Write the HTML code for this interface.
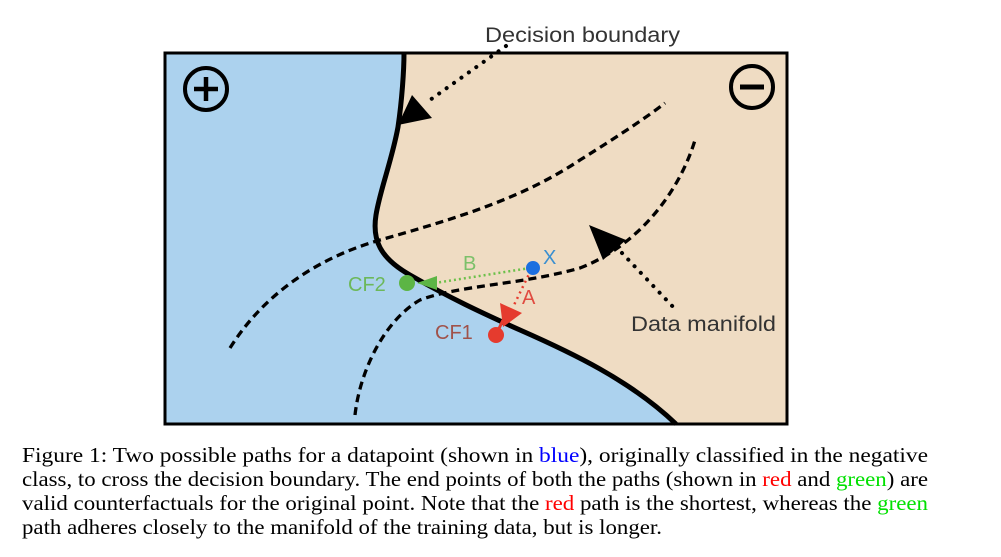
<!DOCTYPE html>
<html><head><meta charset="utf-8"><style>
html,body{margin:0;padding:0;background:#fff;width:1001px;height:557px;overflow:hidden}
svg{display:block}
</style></head><body>
<svg width="1001" height="557" viewBox="0 0 1001 557" xmlns="http://www.w3.org/2000/svg">
<rect x="165" y="53" width="622" height="371" fill="#efdcc3"/>
<path d="M165,53 L404,53 C404,70 402,100 398,127 C392,160 380,190 376,215 C372,240 380,258 410,275 C450,298 480,312 520,330 C570,352 630,380 676,424 L165,424 Z" fill="#acd2ee"/>
<path d="M404,53 C404,70 402,100 398,127 C392,160 380,190 376,215 C372,240 380,258 410,275 C450,298 480,312 520,330 C570,352 630,380 676,424" fill="none" stroke="#000" stroke-width="5"/>
<rect x="165" y="53" width="622" height="371" fill="none" stroke="#000" stroke-width="3"/>
<circle cx="206" cy="89" r="21" fill="none" stroke="#000" stroke-width="4"/>
<path d="M194,89 H218 M206,77 V101" stroke="#000" stroke-width="4.5"/>
<circle cx="752" cy="87" r="21" fill="none" stroke="#000" stroke-width="4"/>
<path d="M740,87 H764" stroke="#000" stroke-width="5"/>
<path d="M230,348 C260,300 310,260 380,240 C450,220 520,200 580,160 C620,135 650,115 665,103" fill="none" stroke="#000" stroke-width="3.3" stroke-dasharray="8,5"/>
<path d="M355,415 C360,370 385,320 420,300 C460,285 520,285 580,268 C640,245 680,190 695,140" fill="none" stroke="#000" stroke-width="3.3" stroke-dasharray="8,5"/>
<path d="M506,46 L430,100" stroke="#000" stroke-width="4" stroke-dasharray="0.1,9" stroke-linecap="round"/>
<polygon points="398,125 412,95 432,118" fill="#000"/>
<path d="M622,253 L676,310" stroke="#000" stroke-width="4" stroke-dasharray="0.1,9" stroke-linecap="round"/>
<polygon points="589,225 603,260 626,240" fill="#000"/>
<text x="485" y="42" font-family="Liberation Sans, sans-serif" font-size="21" fill="#333" textLength="195" lengthAdjust="spacingAndGlyphs">Decision boundary</text>
<text x="631" y="331" font-family="Liberation Sans, sans-serif" font-size="21" fill="#333" textLength="145" lengthAdjust="spacingAndGlyphs">Data manifold</text>
<path d="M530,268 L435,283" stroke="#6cc04a" stroke-width="2.5" stroke-dasharray="2,3"/>
<polygon points="417,283 437,276 437,290" fill="#5cb545"/>
<circle cx="407" cy="283" r="8" fill="#5cb545"/>
<path d="M531,270 L514,305" stroke="#e53b2e" stroke-width="2.5" stroke-dasharray="2,4"/>
<polygon points="503,327 500,303 522,313" fill="#e53b2e"/>
<path d="M503,320 L496,335" stroke="#e53b2e" stroke-width="3"/>
<circle cx="496" cy="335" r="8" fill="#e53b2e"/>
<circle cx="533" cy="268" r="7" fill="#1b6fe0"/>
<text x="543" y="264" font-family="Liberation Sans, sans-serif" font-size="20" fill="#3a8fd0">X</text>
<text x="463" y="270" font-family="Liberation Sans, sans-serif" font-size="20" fill="#7cc06a">B</text>
<text x="348" y="291" font-family="Liberation Sans, sans-serif" font-size="20" fill="#6cb85a">CF2</text>
<text x="522" y="304" font-family="Liberation Sans, sans-serif" font-size="20" fill="#e04b40">A</text>
<text x="435" y="339" font-family="Liberation Sans, sans-serif" font-size="20" fill="#a0524a">CF1</text>
<g font-family="Liberation Serif, serif" font-size="21" fill="#000">
<text x="22" y="462" textLength="906" lengthAdjust="spacingAndGlyphs">Figure 1: Two possible paths for a datapoint (shown in <tspan fill="#0000ff">blue</tspan>), originally classified in the negative</text>
<text x="22" y="486" textLength="906" lengthAdjust="spacingAndGlyphs">class, to cross the decision boundary. The end points of both the paths (shown in <tspan fill="#ff0000">red</tspan> and <tspan fill="#00e000">green</tspan>) are</text>
<text x="22" y="510" textLength="906" lengthAdjust="spacingAndGlyphs">valid counterfactuals for the original point. Note that the <tspan fill="#ff0000">red</tspan> path is the shortest, whereas the <tspan fill="#00e000">green</tspan></text>
<text x="22" y="534" textLength="640" lengthAdjust="spacingAndGlyphs">path adheres closely to the manifold of the training data, but is longer.</text>
</g>
</svg>
</body></html>
